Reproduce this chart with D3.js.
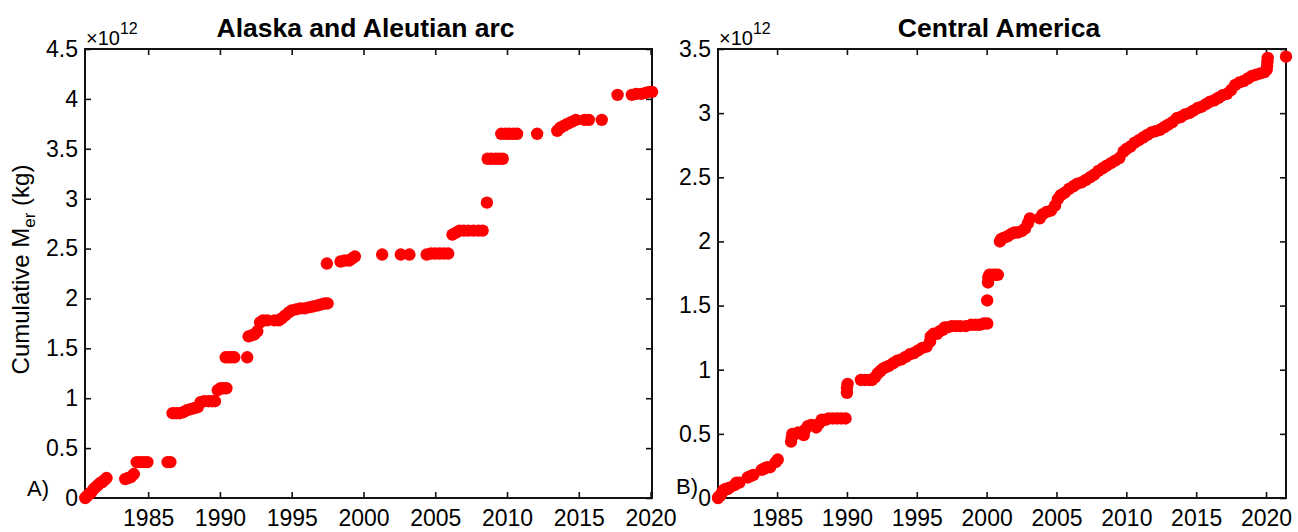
<!DOCTYPE html>
<html>
<head>
<meta charset="utf-8">
<script src="https://cdn.jsdelivr.net/npm/d3@7"></script>
<style>
  html, body { margin: 0; padding: 0; background: #fff; }
  svg { display: block; }
  text { font-family: "Liberation Sans", Arial, sans-serif; fill: #000; }
</style>
</head>
<body>
<svg id="fig" width="1298" height="532"></svg>
<script>
// Cumulative erupted mass, in units of 10^12 kg, against decimal year.

// Panel A: Alaska and Aleutian arc
const alaskaYears = [
  1980.62, 1980.75, 1980.9, 1981.05, 1981.2, 1981.35, 1981.5, 1981.65, 1981.8, 1981.95, 1982.1,
  1983.4, 1983.6, 1983.8, 1984.0,
  1984.2, 1984.45, 1984.7, 1984.95, 1986.35, 1986.55,
  1986.7, 1986.95, 1987.2, 1987.45, 1987.7, 1987.95, 1988.2, 1988.45, 1988.65, 1988.9, 1989.2, 1989.45, 1989.65,
  1989.85, 1990.05, 1990.25, 1990.45,
  1990.4, 1990.6, 1990.8, 1991.0, 1991.9,
  1992.0, 1992.2, 1992.4, 1992.6,
  1992.8, 1993.0, 1993.3, 1993.8, 1994.1,
  1994.3, 1994.55, 1994.8, 1995.0, 1995.3, 1995.6, 1995.9, 1996.2, 1996.5, 1996.8, 1997.05, 1997.3, 1997.5,
  1997.45, 1998.4, 1998.7, 1999.0, 1999.2, 1999.4,
  2001.3, 2002.6, 2003.2, 2004.4, 2004.7, 2005.0, 2005.3, 2005.6, 2005.9,
  2006.2, 2006.45, 2006.7, 2007.0, 2007.3, 2007.65, 2008.0, 2008.3,
  2008.6, 2008.65, 2008.9, 2009.2, 2009.45, 2009.7,
  2009.6, 2009.9, 2010.15, 2010.45, 2010.7, 2012.1,
  2013.5, 2013.7, 2013.95, 2014.2, 2014.5, 2014.8, 2015.4, 2015.7, 2016.6,
  2017.7, 2018.7, 2019.0, 2019.35, 2019.65, 2019.9, 2020.1
];
const alaskaMer = [
  0.00, 0.02, 0.04, 0.06, 0.09, 0.11, 0.13, 0.15, 0.16, 0.18, 0.20,
  0.19, 0.20, 0.21, 0.24,
  0.36, 0.36, 0.36, 0.36, 0.36, 0.36,
  0.85, 0.85, 0.85, 0.86, 0.88, 0.89, 0.90, 0.91, 0.96, 0.97, 0.97, 0.97, 0.97,
  1.08, 1.10, 1.10, 1.10,
  1.41, 1.41, 1.41, 1.41, 1.41,
  1.62, 1.63, 1.64, 1.67,
  1.76, 1.78, 1.78, 1.78, 1.78,
  1.80, 1.83, 1.86, 1.88, 1.89, 1.90, 1.90, 1.91, 1.92, 1.93, 1.94, 1.95, 1.95,
  2.35, 2.37, 2.38, 2.38, 2.40, 2.42,
  2.44, 2.44, 2.44, 2.44, 2.45, 2.45, 2.45, 2.45, 2.45,
  2.64, 2.66, 2.68, 2.68, 2.68, 2.68, 2.68, 2.68,
  2.96, 3.40, 3.40, 3.40, 3.40, 3.40,
  3.65, 3.65, 3.65, 3.65, 3.65, 3.65,
  3.68, 3.71, 3.73, 3.75, 3.77, 3.79, 3.79, 3.79, 3.79,
  4.04, 4.04, 4.05, 4.05, 4.06, 4.07, 4.07
];

// Panel B: Central America
const centralYears = [
  1980.77, 1980.85, 1980.95, 1981.05, 1981.15, 1981.3, 1981.45, 1981.6,
  1981.95, 1982.1, 1982.3, 1982.9, 1983.1, 1983.3,
  1983.9, 1984.1, 1984.3, 1984.5, 1984.9, 1985.05,
  1986.0, 1986.05, 1986.1, 1986.3, 1986.5,
  1986.9, 1987.0, 1987.2, 1987.45, 1987.8, 1988.0, 1988.2,
  1988.45, 1988.7, 1989.0, 1989.3, 1989.6, 1989.9,
  1990.0, 1990.0, 1990.05,
  1991.0, 1991.3, 1991.6, 1991.8, 1992.0, 1992.2, 1992.4, 1992.6, 1992.8,
  1993.0, 1993.3, 1993.6, 1993.9, 1994.2, 1994.5, 1994.8, 1995.1, 1995.4, 1995.7,
  1995.95, 1996.0, 1996.2, 1996.45, 1996.65, 1996.85, 1997.0, 1997.2,
  1997.5, 1997.8, 1998.1, 1998.5, 1998.9, 1999.2, 1999.5, 1999.8, 2000.05,
  2000.04, 2000.1, 2000.12, 2000.2, 2000.4, 2000.6, 2000.8,
  2000.95, 2001.05, 2001.25, 2001.5, 2001.8, 2002.0, 2002.25, 2002.5, 2002.75, 2002.95, 2003.1,
  2003.8, 2004.0, 2004.3, 2004.6, 2004.9, 2005.1,
  2005.3, 2005.6, 2005.9, 2006.2, 2006.5, 2006.8, 2007.1, 2007.4, 2007.7, 2008.0,
  2008.3, 2008.6, 2008.9, 2009.2, 2009.5, 2009.8,
  2010.0, 2010.3, 2010.6, 2010.9, 2011.2, 2011.5, 2011.8, 2012.1, 2012.4, 2012.7,
  2013.0, 2013.3, 2013.6, 2013.9, 2014.2, 2014.5, 2014.8, 2015.1, 2015.4, 2015.7,
  2016.0, 2016.3, 2016.6, 2016.9, 2017.2, 2017.5, 2017.8, 2018.1, 2018.4, 2018.7,
  2019.0, 2019.3, 2019.6, 2019.9, 2020.05, 2020.08, 2020.1, 2020.12,
  2021.43
];
const centralMer = [
  0.00, 0.01, 0.02, 0.04, 0.06, 0.07, 0.07, 0.08,
  0.10, 0.12, 0.12, 0.16, 0.17, 0.18,
  0.22, 0.23, 0.24, 0.24, 0.28, 0.30,
  0.44, 0.47, 0.50, 0.50, 0.51,
  0.49, 0.53, 0.56, 0.57, 0.55, 0.58, 0.61,
  0.61, 0.62, 0.62, 0.62, 0.62, 0.62,
  0.82, 0.86, 0.89,
  0.92, 0.92, 0.92, 0.92, 0.94, 0.97, 0.99, 1.01, 1.02,
  1.03, 1.05, 1.07, 1.08, 1.10, 1.12, 1.13, 1.15, 1.17, 1.18,
  1.22, 1.26, 1.28, 1.28, 1.30, 1.31, 1.33, 1.33,
  1.34, 1.34, 1.34, 1.34, 1.35, 1.35, 1.35, 1.36, 1.36,
  1.54, 1.68, 1.72, 1.74, 1.74, 1.74, 1.74,
  2.00, 2.02, 2.03, 2.04, 2.06, 2.07, 2.07, 2.08, 2.10, 2.14, 2.18,
  2.18, 2.21, 2.23, 2.24, 2.28, 2.33,
  2.36, 2.38, 2.41, 2.43, 2.45, 2.46, 2.48, 2.50, 2.52, 2.55,
  2.57, 2.59, 2.61, 2.63, 2.65, 2.70,
  2.72, 2.74, 2.77, 2.79, 2.81, 2.83, 2.85, 2.86, 2.87, 2.89,
  2.91, 2.93, 2.96, 2.97, 2.99, 3.00, 3.02, 3.04, 3.05, 3.07,
  3.09, 3.10, 3.12, 3.14, 3.15, 3.18, 3.22, 3.24, 3.25, 3.27,
  3.29, 3.30, 3.31, 3.32, 3.34, 3.37, 3.40, 3.43,
  3.44
];

const yearTicks = [1985, 1990, 1995, 2000, 2005, 2010, 2015, 2020];
const alaskaMerTicks = [0, 0.5, 1, 1.5, 2, 2.5, 3, 3.5, 4, 4.5];
const centralMerTicks = [0, 0.5, 1, 1.5, 2, 2.5, 3, 3.5];

const panels = [
  {
    title: "Alaska and Aleutian arc", tag: "A)", tagX: 27, tagY: 496, years: alaskaYears, mer: alaskaMer,
    yTicks: alaskaMerTicks, xDomain: [1980.6, 2020.1], yMax: 4.5,
    left: 85, right: 652, showYLabel: true
  },
  {
    title: "Central America", tag: "B)", tagX: 676, tagY: 494, years: centralYears, mer: centralMer,
    yTicks: centralMerTicks, xDomain: [1980.77, 2021.43], yMax: 3.5,
    left: 718, right: 1286, showYLabel: false
  }
];

const plotTop = 49, plotBottom = 498;
const svg = d3.select("#fig");
const axisColor = "#111";
const tickFont = 23;

const fmt = d => (d === 0 ? "0" : String(d));

panels.forEach(p => {
  const x = d3.scaleLinear().domain(p.xDomain).range([p.left, p.right]);
  const y = d3.scaleLinear().domain([0, p.yMax]).range([plotBottom, plotTop]);
  const g = svg.append("g");

  // frame
  g.append("rect")
    .attr("x", p.left).attr("y", plotTop)
    .attr("width", p.right - p.left).attr("height", plotBottom - plotTop)
    .attr("fill", "none").attr("stroke", axisColor).attr("stroke-width", 2);

  // bottom axis with labels, inward ticks
  const xb = g.append("g").attr("transform", `translate(0,${plotBottom})`)
    .call(d3.axisBottom(x).tickValues(yearTicks).tickFormat(d3.format("d"))
      .tickSizeInner(-6).tickSizeOuter(0).tickPadding(12));
  // top mirror ticks
  const xt = g.append("g").attr("transform", `translate(0,${plotTop})`)
    .call(d3.axisTop(x).tickValues(yearTicks).tickFormat("")
      .tickSizeInner(-6).tickSizeOuter(0));
  // left axis with labels
  const yl = g.append("g").attr("transform", `translate(${p.left},0)`)
    .call(d3.axisLeft(y).tickValues(p.yTicks).tickFormat(fmt)
      .tickSizeInner(-6).tickSizeOuter(0).tickPadding(7));
  // right mirror ticks
  const yr = g.append("g").attr("transform", `translate(${p.right},0)`)
    .call(d3.axisRight(y).tickValues(p.yTicks).tickFormat("")
      .tickSizeInner(-6).tickSizeOuter(0));

  [xb, xt, yl, yr].forEach(a => {
    a.select(".domain").remove();
    a.selectAll(".tick line").attr("stroke", axisColor).attr("stroke-width", 1.6);
    a.selectAll(".tick text").attr("fill", "#000")
      .attr("font-family", '"Liberation Sans", Arial, sans-serif')
      .attr("font-size", tickFont);
  });

  // scatter points
  g.append("g").selectAll("circle")
    .data(p.years.map((yr, i) => [yr, p.mer[i]]))
    .join("circle")
    .attr("cx", d => x(d[0]))
    .attr("cy", d => y(d[1]))
    .attr("r", 6.2)
    .attr("fill", "#ff0000");

  // title
  g.append("text")
    .attr("x", (p.left + p.right) / 2 - 3).attr("y", 37)
    .attr("text-anchor", "middle")
    .attr("font-size", 26.5).attr("font-weight", "bold")
    .text(p.title);

  // exponent multiplier
  const ex = g.append("text").attr("x", p.left + 1).attr("y", 45).attr("font-size", 20);
  ex.append("tspan").text("\u00d710");
  ex.append("tspan").attr("font-size", 16).attr("dy", -11).text("12");

  // panel tag
  g.append("text")
    .attr("x", p.tagX).attr("y", p.tagY)
    .attr("font-size", 22)
    .text(p.tag);

  if (p.showYLabel) {
    const yt = g.append("text")
      .attr("transform", `translate(29,${(plotTop + plotBottom) / 2 - 4}) rotate(-90)`)
      .attr("text-anchor", "middle")
      .attr("font-size", 24);
    yt.append("tspan").text("Cumulative M");
    yt.append("tspan").attr("font-size", 17).attr("dy", 6).text("er");
    yt.append("tspan").attr("dy", -6).text(" (kg)");
  }
});
</script>
</body>
</html>
